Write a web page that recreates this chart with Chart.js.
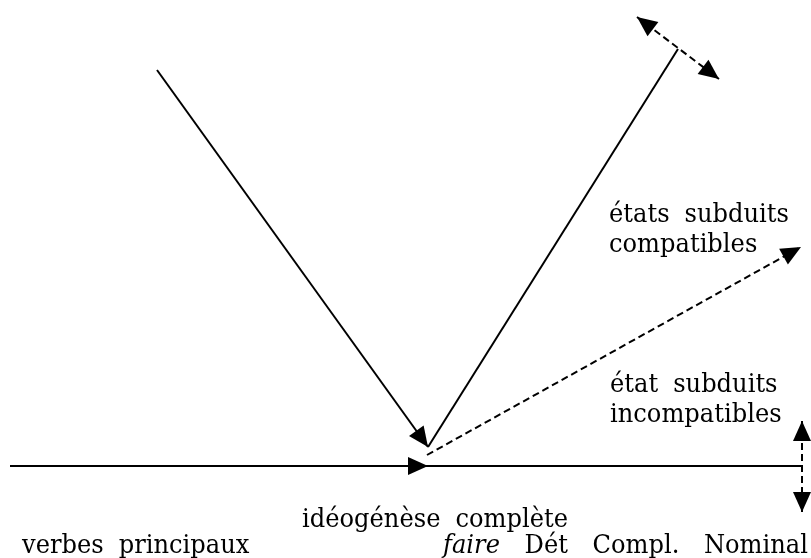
<!DOCTYPE html>
<html>
<head>
<meta charset="utf-8">
<script src="https://cdn.jsdelivr.net/npm/chart.js@4.4.1/dist/chart.umd.min.js"></script>
<style>
  html, body { margin: 0; padding: 0; background: #fff; }
  #wrap { width: 811px; height: 558px; }
</style>
</head>
<body>
<div id="wrap"><canvas id="diagram"></canvas></div>
<script>
// Diagram coordinates: x runs 0..811 left to right, y runs 0..558 top to bottom
const baseLine     = [{x: 10, y: 466}, {x: 428, y: 466}, {x: 802, y: 466}];
const descentLine  = [{x: 157, y: 70}, {x: 428, y: 447}];
const ascentLine   = [{x: 428, y: 447}, {x: 678, y: 49}];
const topDashed    = [{x: 637, y: 17}, {x: 719, y: 79}];
const compatDashed = [{x: 427, y: 455}, {x: 801, y: 247}];
const rightDashed  = [{x: 802, y: 421}, {x: 802, y: 512}];

// Labels, anchors (left x, baseline y) and optional right edge for justified lines
const labelTexts = ['états subduits', 'compatibles', 'état subduits', 'incompatibles',
                    'idéogénèse complète', 'verbes principaux', 'faire Dét Compl. Nominal'];
const labelX    = [609, 609, 610, 610, 302, 22, 443];
const labelY    = [222, 252, 392, 422, 527, 553, 553];
const labelEndX = [null, null, null, null, null, null, 808];
const italicWords = ['faire'];

const arrowPlugin = {
    id: 'arrows',
    afterDatasetsDraw(chart) {
        const ctx = chart.ctx;
        chart.data.datasets.forEach((ds, i) => {
            if (!ds.arrows) return;
            const pts = chart.getDatasetMeta(i).data;
            ds.arrows.forEach(idx => {
                const tip = pts[idx];
                const from = idx > 0 ? pts[idx - 1] : pts[1];
                const ang = Math.atan2(tip.y - from.y, tip.x - from.x);
                ctx.save();
                ctx.translate(tip.x, tip.y);
                ctx.rotate(ang);
                ctx.beginPath();
                ctx.moveTo(0, 0);
                ctx.lineTo(-20, -9);
                ctx.lineTo(-20, 9);
                ctx.closePath();
                ctx.fillStyle = '#000';
                ctx.fill();
                ctx.restore();
            });
        });
    }
};

// Serif labels, slightly narrowed to look like the Century-style face of the original
const labelPlugin = {
    id: 'labels',
    afterDraw(chart) {
        const ctx = chart.ctx;
        const xs = chart.scales.x, ys = chart.scales.y;
        const sx = 0.93;
        const fontFor = w => (italicWords.includes(w) ? 'italic ' : '') + '26px "DejaVu Serif"';
        ctx.save();
        ctx.fillStyle = '#000';
        ctx.textBaseline = 'alphabetic';
        ctx.textAlign = 'left';
        labelTexts.forEach((t, i) => {
            const words = t.split(' ');
            const widths = words.map(w => { ctx.font = fontFor(w); return ctx.measureText(w).width * sx; });
            const x0 = xs.getPixelForValue(labelX[i]);
            const y0 = ys.getPixelForValue(labelY[i]);
            let gap = 15;
            if (labelEndX[i] !== null && words.length > 1) {
                const total = widths.reduce((a, b) => a + b, 0);
                gap = (xs.getPixelForValue(labelEndX[i]) - x0 - total) / (words.length - 1);
            }
            let x = x0;
            words.forEach((w, k) => {
                ctx.font = fontFor(w);
                ctx.save();
                ctx.translate(x, y0);
                ctx.scale(sx, 1);
                ctx.fillText(w, 0, 0);
                ctx.restore();
                x += widths[k] + gap;
            });
        });
        ctx.restore();
    }
};

function line(data, opts) {
    return Object.assign({
        data: data,
        showLine: true,
        borderColor: '#000',
        borderWidth: 2,
        pointRadius: 0,
        fill: false,
        tension: 0
    }, opts || {});
}

new Chart(document.getElementById('diagram'), {
    type: 'scatter',
    data: {
        datasets: [
            line(baseLine, { arrows: [1] }),
            line(descentLine, { arrows: [1] }),
            line(ascentLine),
            line(topDashed, { borderDash: [7, 4], arrows: [0, 1] }),
            line(compatDashed, { borderDash: [7, 4], arrows: [1] }),
            line(rightDashed, { borderDash: [7, 4], arrows: [0, 1] })
        ]
    },
    options: {
        responsive: true,
        maintainAspectRatio: false,
        animation: false,
        layout: { padding: 0 },
        plugins: { legend: { display: false }, tooltip: { enabled: false } },
        scales: {
            x: { type: 'linear', min: 0, max: 811, display: false },
            y: { type: 'linear', min: 0, max: 558, reverse: true, display: false }
        }
    },
    plugins: [arrowPlugin, labelPlugin]
});
</script>
</body>
</html>
